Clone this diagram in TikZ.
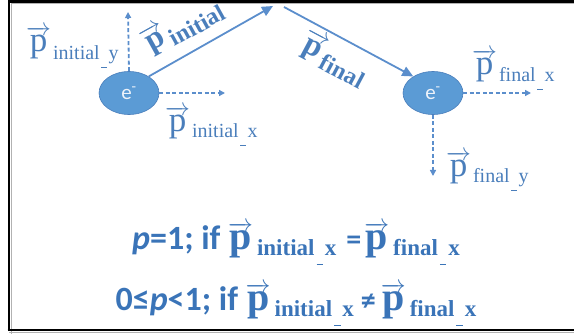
\documentclass[tikz,border=0pt]{standalone}
\usepackage{fontspec}
\usepackage{amsmath}
\setmainfont{Liberation Serif}
\newfontfamily\calfont{Carlito}
\usetikzlibrary{arrows.meta,shapes.geometric}
\definecolor{txtblue}{HTML}{4A7EBB}
\definecolor{botblue}{HTML}{3A74B8}
\definecolor{linblue}{HTML}{5B8ECC}
\definecolor{efill}{HTML}{5B9BD5}
\definecolor{eline}{HTML}{4A7EBB}
\definecolor{etext}{HTML}{EEF3FA}
\newcommand{\vp}{\ensuremath{\overrightarrow{\hbox{p}}}}
\newcommand{\us}{\makebox[0.45em]{\raisebox{-0.4em}{\rule{0.28em}{0.07em}}}}
% main size, sub size, lowering, kern, subtext
\newcommand{\plab}[5]{{\fontsize{#1}{#1}\selectfont\vp}\kern#4\raisebox{-#3}{\fontsize{#2}{#2}\selectfont #5}}
\newcommand{\plabb}[1]{{\bfseries\plab{40pt}{23pt}{6pt}{4pt}{#1}}}
\begin{document}
\begin{tikzpicture}[x=1pt,y=-1pt,
  electron/.style={ellipse,draw=eline,line width=0.6pt,fill=efill,minimum width=60pt,minimum height=43pt,inner sep=0pt,text=etext,font=\calfont\fontsize{21}{21}\selectfont},
  lab/.style={inner sep=0pt,text=txtblue},
  botline/.style={inner sep=0pt,text=botblue},
  solidarrow/.style={draw=linblue,line width=1.8pt,-{Triangle[length=11pt,width=10pt]}},
  dasharrow/.style={draw=linblue,line width=1.8pt,dash pattern=on 4pt off 2.5pt,-{Triangle[length=6pt,width=6pt]}},
  frameline/.style={draw=black,line width=2.6pt}]
\useasboundingbox (0,0) rectangle (574,334);
% frame
\draw[draw=gray!60,line width=1pt] (11,334) -- (11,3.5) -- (574,3.5);
\draw[draw=gray!60,line width=1.2pt] (9,332.5) -- (574,332.5);
\draw[frameline] (9,330) -- (9,1.3) -- (574,1.3);
\draw[frameline] (7.7,330) -- (574,330);
% electrons
\node[electron] (el) at (129,93) {e\textsuperscript{-}};
\node[electron] (er) at (433,93) {e\textsuperscript{-}};
% coordinates
\coordinate (ti) at (273,6);
\coordinate (tf) at (284,7);
\coordinate (iy) at (128,12);
\coordinate (ix) at (225,93);
\coordinate (fx) at (531,93);
\coordinate (fy) at (433,176);
% arrows
\draw[solidarrow] (el.40) -- (ti);
\draw[solidarrow] (tf) -- (er.140);
\draw[dasharrow] (el.north) -- (iy);
\draw[dasharrow] (el.east) -- (ix);
\draw[dasharrow] (er.east) -- (fx);
\draw[dasharrow] (er.south) -- (fy);
% labels
\node[lab,anchor=base west] (piy) at (26,52) {\plab{35pt}{20pt}{8pt}{2pt}{initial\us y}};
\node[lab,anchor=base west] (pix) at (165,132) {\plab{35pt}{20pt}{6pt}{2pt}{initial\us x}};
\node[lab,anchor=base west] (pfx) at (472,75) {\plab{35pt}{20pt}{7pt}{2pt}{final\us x}};
\node[lab,anchor=base west] (pfy) at (446,177) {\plab{35pt}{20pt}{6pt}{2pt}{final\us y}};
\node[lab,rotate=29,anchor=base west] (pin) at (148.5,53.5) {\bfseries\plab{32pt}{24pt}{7pt}{1pt}{initial}};
\node[lab,rotate=-28,anchor=base west] (pfn) at (298,49) {\bfseries\plab{32pt}{24pt}{7pt}{1pt}{final}};
% bottom text
\node[botline,anchor=base] (l1) at (296,250) {{\calfont\bfseries\fontsize{34}{34}\selectfont\textit{p}=1; if }\plabb{initial\us x}\hspace{10pt}{\calfont\bfseries\fontsize{30}{30}\selectfont =}\hspace{3pt}\plabb{final\us x}};
\node[botline,anchor=base] (l2) at (296,311) {{\calfont\bfseries\fontsize{34}{34}\selectfont 0≤\textit{p}<1; if }\plabb{initial\us x}\hspace{7pt}{\calfont\bfseries\fontsize{30}{30}\selectfont ≠}\hspace{5pt}\plabb{final\us x}};
\end{tikzpicture}
\end{document}
